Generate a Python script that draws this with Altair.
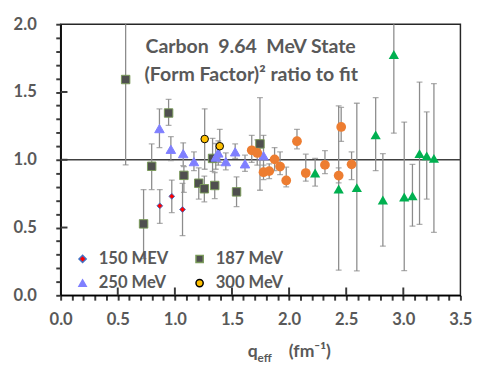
import altair as alt
import pandas as pd

# ---------------- data ----------------
names = ["150 MEV", "187 MeV", "250 MeV", "300 MeV"]

x150 = [0.868, 0.973, 1.067]
y150 = [0.66, 0.73, 0.633]
lo150 = [0.53, 0.61, 0.44]
hi150 = [0.78, 0.85, 0.825]

x187 = [0.569, 0.726, 0.797, 0.945, 1.079, 1.209, 1.258, 1.33, 1.349, 1.54, 1.745]
y187 = [1.592, 0.527, 0.952, 1.345, 0.885, 0.827, 0.786, 1.01, 0.81, 0.763, 1.117]
lo187 = [0.962, 0.27, 0.78, 1.254, 0.76, 0.71, 0.69, 0.914, 0.714, 0.655, 0.775]
hi187 = [2.2, 0.78, 1.117, 1.446, 0.95, 0.94, 0.88, 1.158, 0.906, 0.873, 1.458]

x250 = [0.865, 0.965, 1.073, 1.167, 1.358, 1.38, 1.446, 1.528, 1.614, 1.776]
y250 = [1.23, 1.077, 1.045, 0.986, 1.02, 1.05, 0.986, 1.058, 0.97, 1.03]
lo250 = [1.09, 0.993, 0.957, 0.919, 0.93, 0.96, 0.926, 1.01, 0.914, 0.89]
hi250 = [1.375, 1.17, 1.125, 1.058, 1.12, 1.14, 1.05, 1.117, 1.034, 1.18]

x300 = [1.261, 1.393]
y300 = [1.153, 1.10]
lo300 = [0.93, 0.98]
hi300 = [1.376, 1.225]

# unlabeled orange series
xor = [1.673, 1.721, 1.776, 1.826, 1.873, 1.921, 1.975, 2.069, 2.146, 2.314, 2.434, 2.456, 2.547]
yor = [1.07, 1.05, 0.908, 0.916, 1.003, 0.95, 0.847, 1.137, 0.902, 0.962, 0.883, 1.242, 0.966]
loor = [0.98, 0.96, 0.854, 0.861, 0.92, 0.89, 0.80, 1.081, 0.842, 0.897, 0.83, 1.135, 0.854]
hior = [1.18, 1.146, 0.96, 0.97, 1.09, 1.058, 0.945, 1.225, 1.041, 1.067, 0.94, 1.386, 1.058]

# unlabeled green series
xgr = [2.228, 2.434, 2.593, 2.758, 2.821, 2.917, 3.008, 3.08, 3.142, 3.205, 3.268]
ygr = [0.902, 0.784, 0.794, 1.184, 0.703, 1.777, 0.725, 0.734, 1.045, 1.029, 1.01]
logr = [0.806, 0.185, 0.18, 0.919, 0.362, 1.196, 0.182, 0.51, 0.523, 0.71, 0.465]
higr = [1.01, 1.398, 1.417, 1.458, 1.045, 2.2, 1.278, 0.966, 1.573, 1.353, 1.561]

x_major = [0.5, 1.0, 1.5, 2.0, 2.5, 3.0]
y_major = [0.5, 1.0, 1.5]

title1 = "Carbon\u00a0 9.64\u00a0 MeV State"
title2 = "(Form Factor)\u00b2 ratio to fit"

# ---------------- build tables ----------------
def tab(series, xs, ys, lo, hi):
    return pd.DataFrame({"series": series, "x": xs, "y": ys, "lo": lo, "hi": hi})

d150 = tab(names[0], x150, y150, lo150, hi150)
d187 = tab(names[1], x187, y187, lo187, hi187)
d250 = tab(names[2], x250, y250, lo250, hi250)
d300 = tab(names[3], x300, y300, lo300, hi300)
orange = tab("orange", xor, yor, loor, hior)
green = tab("green", xgr, ygr, logr, higr)
allpts = pd.concat([d150, d187, d250, d300, orange, green], ignore_index=True)

TXT = "#595959"
FONT = "Lato"
W, H = 410, 278
GRAY = "#8c8c8c"
TICKC = "#3a3a3a"

xscale = alt.Scale(domain=[0, 3.5], nice=False, zero=False)
yscale = alt.Scale(domain=[0, 2], nice=False, zero=False)
xticks = [round(i * 0.1, 1) for i in range(36)]
yticks = [round(i * 0.1, 1) for i in range(21)]
lab = "abs(datum.value*2 - round(datum.value*2)) < 0.001 ? format(datum.value, '.1f') : ''"

common_axis = dict(grid=False, title=None, labelExpr=lab, labelFlush=False,
                   labelOverlap=False, ticks=True, tickSize=5, tickWidth=2,
                   tickColor=TICKC, domainColor="#000000", domainWidth=1.5,
                   labelFont=FONT, labelFontWeight="bold", labelFontSize=17, labelColor=TXT)
xaxis = alt.Axis(values=xticks, labelPadding=12, **common_axis)
yaxis = alt.Axis(values=yticks, labelPadding=20, **common_axis)

X = lambda f="x": alt.X(f"{f}:Q", scale=xscale, axis=xaxis)
Y = lambda f="y": alt.Y(f"{f}:Q", scale=yscale, axis=yaxis)

one = pd.DataFrame({"v": [1.0]})
refline = alt.Chart(one).mark_rule(color="#404040", strokeWidth=1.5).encode(y=Y("v"))

# inner part of the major ticks (they cross the axis line)
ymaj = alt.Chart(pd.DataFrame({"v": y_major})).mark_rule(color=TICKC, strokeWidth=2).encode(
    y=Y("v"), x=alt.value(0), x2=alt.value(7))
xmaj = alt.Chart(pd.DataFrame({"v": x_major})).mark_rule(color=TICKC, strokeWidth=2).encode(
    x=X("v"), y=alt.value(H - 8), y2=alt.value(H))

errs = alt.Chart(allpts).mark_rule(color=GRAY, strokeWidth=1.3, clip=True).encode(
    x=X(), y=Y("lo"), y2="hi:Q")
cap_lo = alt.Chart(allpts).mark_tick(orient="horizontal", color=GRAY, size=6, thickness=1.3, clip=True).encode(
    x=X(), y=Y("lo"))
cap_hi = alt.Chart(allpts).mark_tick(orient="horizontal", color=GRAY, size=6, thickness=1.3, clip=True).encode(
    x=X(), y=Y("hi"))

# legend is laid out column by column: this order gives rows 150/187 and 250/300
leg_order = [names[0], names[2], names[1], names[3]]
leg = alt.Legend(title=None, orient="none", legendX=14, legendY=232, columns=2,
                 columnPadding=23, rowPadding=7, labelFont=FONT, labelFontWeight="bold",
                 labelFontSize=17, labelColor=TXT, symbolSize=55, labelOffset=8)
shape_enc = alt.Shape("series:N", scale=alt.Scale(domain=leg_order, range=["diamond", "triangle-up", "square", "circle"]), legend=leg)
fill_enc = alt.Fill("series:N", scale=alt.Scale(domain=leg_order, range=["#ff0000", "#7f7fff", "#4f4f4f", "#ffc000"]), legend=leg)
stroke_enc = alt.Stroke("series:N", scale=alt.Scale(domain=leg_order, range=["#4472c4", "#7f7fff", "#7a9a5a", "#000000"]), legend=leg)

def series_layer(df, size):
    return alt.Chart(df).mark_point(filled=True, opacity=1, strokeWidth=1, size=size).encode(
        x=X(), y=Y(), shape=shape_enc, fill=fill_enc, stroke=stroke_enc)

p150 = series_layer(d150, 35)
p187 = series_layer(d187, 75)
p250 = series_layer(d250, 95)
p300 = series_layer(d300, 60)

orange_pts = alt.Chart(orange).mark_point(filled=True, opacity=1, shape="circle", size=100,
                                          color="#ed7d31").encode(x=X(), y=Y())
green_pts = alt.Chart(green).mark_point(filled=True, opacity=1, shape="triangle-up", size=110,
                                        color="#00b050").encode(x=X(), y=Y())

blank = pd.DataFrame({"k": [0]})
def txt(s, x, y, size, align="left"):
    return alt.Chart(blank).mark_text(text=s, font=FONT, fontWeight="bold", fontSize=size,
                                      color=TXT, align=align, baseline="middle").encode(
        x=alt.value(x), y=alt.value(y))

t1 = txt(title1, 87, 24, 20)
t2 = txt(title2, 86, 52, 20)
xt_q = txt("q", 192, 336, 18)
xt_eff = txt("eff", 202, 342, 12)
xt_rest = txt("(fm\u207b\u00b9)", 234, 336, 18)

chart = alt.layer(
    refline, errs, cap_lo, cap_hi, p187, p250, p150, p300, orange_pts, green_pts,
    xmaj, ymaj, t1, t2, xt_q, xt_eff, xt_rest
).properties(
    width=W, height=H, background="white",
    padding={"top": 3, "left": 5, "right": 5, "bottom": 3}
).configure_view(stroke="#262626", strokeWidth=1.5)

chart.save("out.html", embed_options={"renderer": "svg", "actions": False})
